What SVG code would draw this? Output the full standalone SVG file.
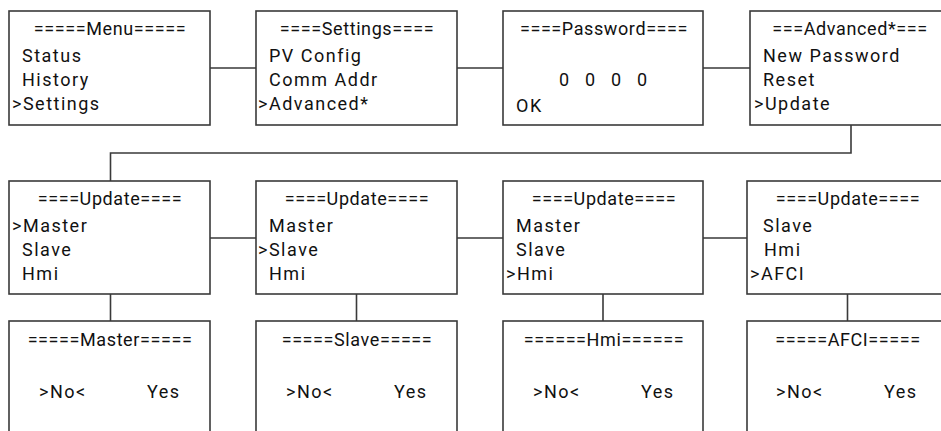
<svg xmlns="http://www.w3.org/2000/svg" width="941" height="431" viewBox="0 0 941 431">
<style>
.box{fill:#fff;stroke:#3a3a3a;stroke-width:1.6}
.ln{fill:none;stroke:#3a3a3a;stroke-width:1.6}
text{font-family:Roboto,"Liberation Sans",sans-serif;font-size:18px;fill:#111;letter-spacing:1.5px}
.t{text-anchor:middle;letter-spacing:0.6px}
</style>
<rect width="941" height="431" fill="#fff"/>
<g id="connectors">
<path class="ln" d="M210 68H256M457 68H503M703 68H750"/>
<path class="ln" d="M851 125V153H110.5V181"/>
<path class="ln" d="M210 238H256M457 238H503M703 238H747"/>
<path class="ln" d="M110.5 294V321M356.5 294V321M603 294V321M847.5 294V321"/>
</g>
<g id="menu">
<rect class="box" x="9" y="11" width="201" height="114"/>
<text class="t" x="110" y="35">=====Menu=====</text>
<text x="22" y="62">Status</text>
<text x="22" y="86">History</text>
<text x="12" y="110">&gt;Settings</text>
</g>
<g id="settings">
<rect class="box" x="256" y="11" width="201" height="114"/>
<text class="t" x="357" y="35">====Settings====</text>
<text x="269" y="62">PV Config</text>
<text x="269" y="86">Comm Addr</text>
<text x="258" y="110">&gt;Advanced*</text>
</g>
<g id="password">
<rect class="box" x="503" y="11" width="200" height="114"/>
<text class="t" x="604" y="35">====Password====</text>
<text x="559" y="86" style="word-spacing:8.4px">0 0 0 0</text>
<text x="516" y="112">OK</text>
</g>
<g id="advanced">
<rect class="box" x="750" y="11" width="201" height="114"/>
<text class="t" x="850" y="35">===Advanced*===</text>
<text x="763" y="62">New Password</text>
<text x="763" y="86">Reset</text>
<text x="754" y="110">&gt;Update</text>
</g>
<g id="update-master">
<rect class="box" x="9" y="181" width="201" height="113"/>
<text class="t" x="110" y="205">====Update====</text>
<text x="12" y="232">&gt;Master</text>
<text x="22" y="256">Slave</text>
<text x="22" y="280">Hmi</text>
</g>
<g id="update-slave">
<rect class="box" x="256" y="181" width="201" height="113"/>
<text class="t" x="357" y="205">====Update====</text>
<text x="269" y="232">Master</text>
<text x="258" y="256">&gt;Slave</text>
<text x="269" y="280">Hmi</text>
</g>
<g id="update-hmi">
<rect class="box" x="503" y="181" width="200" height="113"/>
<text class="t" x="604" y="205">====Update====</text>
<text x="516" y="232">Master</text>
<text x="516" y="256">Slave</text>
<text x="506" y="280">&gt;Hmi</text>
</g>
<g id="update-afci">
<rect class="box" x="747" y="181" width="201" height="113"/>
<text class="t" x="848" y="205">====Update====</text>
<text x="763" y="232">Slave</text>
<text x="764" y="256">Hmi</text>
<text x="750" y="280">&gt;AFCI</text>
</g>
<g id="confirm-master">
<rect class="box" x="9" y="321" width="201" height="130"/>
<text class="t" x="110" y="346">=====Master=====</text>
<text x="39" y="398">&gt;No&lt;</text>
<text x="147" y="398">Yes</text>
</g>
<g id="confirm-slave">
<rect class="box" x="256" y="321" width="201" height="130"/>
<text class="t" x="357" y="346">=====Slave=====</text>
<text x="286" y="398">&gt;No&lt;</text>
<text x="394" y="398">Yes</text>
</g>
<g id="confirm-hmi">
<rect class="box" x="503" y="321" width="200" height="130"/>
<text class="t" x="604" y="346">======Hmi======</text>
<text x="533" y="398">&gt;No&lt;</text>
<text x="641" y="398">Yes</text>
</g>
<g id="confirm-afci">
<rect class="box" x="747" y="321" width="201" height="130"/>
<text class="t" x="848" y="346">=====AFCI=====</text>
<text x="776" y="398">&gt;No&lt;</text>
<text x="884" y="398">Yes</text>
</g>
</svg>
